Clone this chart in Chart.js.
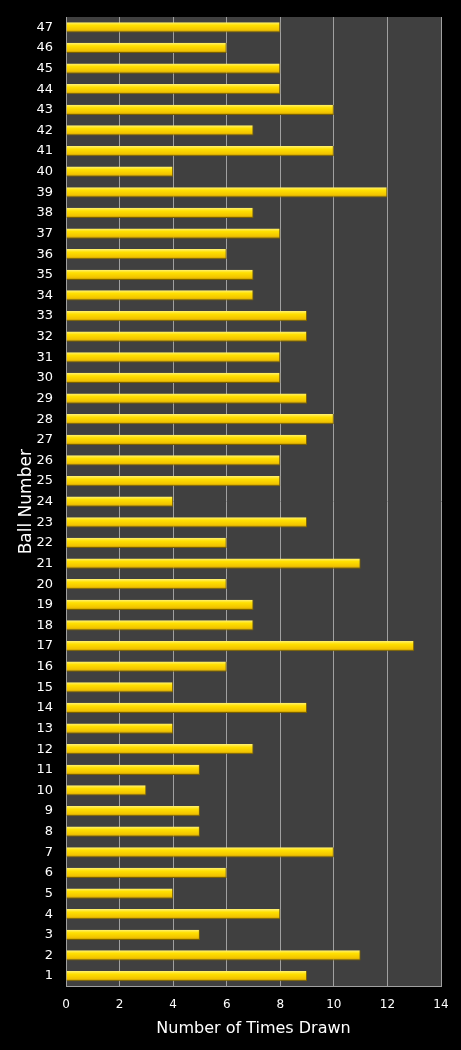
<!DOCTYPE html>
<html>
<head>
<meta charset="utf-8">
<script src="https://cdn.jsdelivr.net/npm/chart.js@4/dist/chart.umd.min.js"></script>
<style>
  html, body { margin: 0; padding: 0; background: #000; }
  #wrap { width: 461px; height: 1050px; }
</style>
</head>
<body>
<div id="wrap"><canvas id="ctx"></canvas></div>
<script>
// ball numbers, top to bottom as shown
const balls = [];
for (let b = 47; b >= 1; b--) balls.push(String(b));

// times drawn, same order as balls (47 down to 1)
const timesDrawn = [
  8, 6, 8, 8, 10, 7, 10, 4, 12, 7,
  8, 6, 7, 7, 9, 9, 8, 8, 9, 10,
  9, 8, 8, 4, 9, 6, 11, 6, 7, 7,
  13, 6, 4, 9, 4, 7, 5, 3, 5, 5,
  10, 6, 4, 8, 5, 11, 9
];

const xTicks = [0, 2, 4, 6, 8, 10, 12, 14];
const barPct = 0.5;

// vertical gold gradient per bar, worked out from the y scale
function barFill(c) {
  const y = c.chart.scales.y;
  if (!y || y.height == null) return '#ffd700';
  const mid = y.getPixelForValue(c.dataIndex);
  const h = (y.height / balls.length) * barPct;
  const top = mid - h / 2;
  const g = c.chart.ctx.createLinearGradient(0, top, 0, top + h);
  g.addColorStop(0, '#fff27a');
  g.addColorStop(0.3, '#ffe000');
  g.addColorStop(0.75, '#f2c400');
  g.addColorStop(1, '#b08a00');
  return g;
}

const plotBg = {
  id: 'plotBg',
  beforeDraw(chart) {
    const { ctx, chartArea: a } = chart;
    ctx.save();
    ctx.fillStyle = '#000';
    ctx.fillRect(0, 0, chart.width, chart.height);
    ctx.fillStyle = '#404040';
    ctx.fillRect(a.left, a.top, a.right - a.left, a.bottom - a.top);
    ctx.restore();
  }
};

new Chart(document.getElementById('ctx'), {
  type: 'bar',
  data: {
    labels: balls,
    datasets: [{
      data: timesDrawn,
      backgroundColor: barFill,
      borderColor: '#7a6000',
      borderWidth: { top: 0, left: 0, right: 1, bottom: 1 },
      borderSkipped: false,
      categoryPercentage: 1,
      barPercentage: barPct
    }]
  },
  options: {
    indexAxis: 'y',
    responsive: true,
    maintainAspectRatio: false,
    animation: false,
    layout: { padding: { top: 17, right: 20, bottom: 4, left: 16 } },
    plugins: { legend: { display: false }, tooltip: { enabled: false } },
    scales: {
      x: {
        min: 0,
        max: 14,
        afterBuildTicks: s => { s.ticks = xTicks.map(v => ({ value: v })); },
        grid: { color: '#a0a0a0', lineWidth: 1, drawTicks: false },
        border: { color: '#a0a0a0' },
        ticks: { color: '#fff', padding: 11, font: { family: 'DejaVu Sans', size: 12 } },
        title: {
          display: true,
          text: 'Number of Times Drawn',
          color: '#fff',
          font: { family: 'DejaVu Sans', size: 16 },
          padding: { top: -4, bottom: 8 }
        }
      },
      y: {
        afterFit: s => { s.width = 50; s.paddingTop = 0; s.paddingBottom = 0; },
        grid: { display: false, drawTicks: false },
        border: { color: '#a0a0a0' },
        ticks: { color: '#fff', padding: 13, autoSkip: false, font: { family: 'DejaVu Sans', size: 13 } },
        title: {
          display: true,
          text: 'Ball Number',
          color: '#fff',
          font: { family: 'DejaVu Sans', size: 17 },
          padding: { top: 0, bottom: 0 }
        }
      }
    }
  },
  plugins: [plotBg]
});
</script>
</body>
</html>
